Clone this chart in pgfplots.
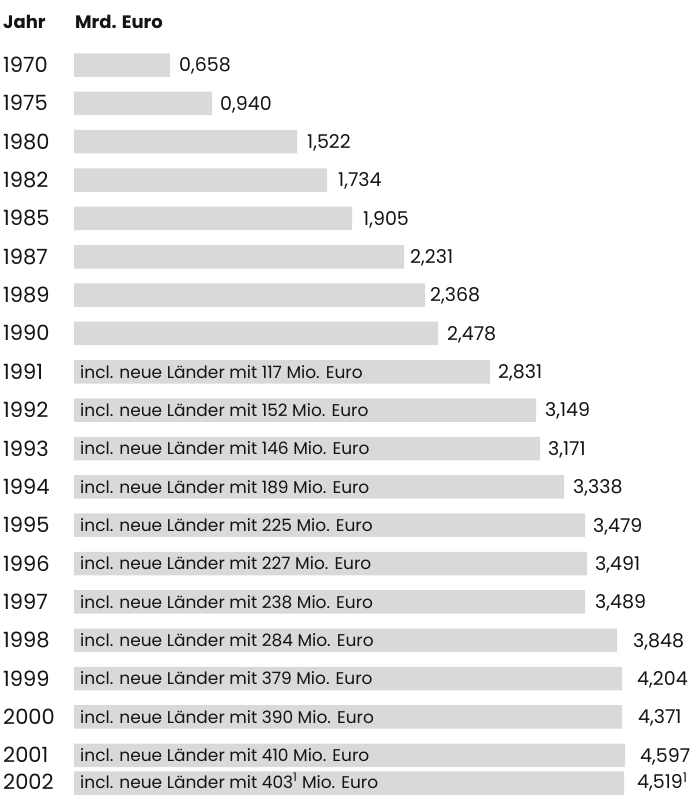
\documentclass[border=0pt]{standalone}
\usepackage{fontspec}
\setmainfont{Poppins}
\usepackage{pgfplots}
\pgfplotsset{compat=1.18}
\definecolor{barg}{RGB}{217,217,217}
\definecolor{txt}{RGB}{20,20,20}
\begin{document}
\begin{tikzpicture}
\useasboundingbox (0,0) rectangle (696pt,796pt);
\clip (0,0) rectangle (696pt,796pt);
\begin{axis}[at={(0,0)}, anchor=south west, scale only axis,
  width=696pt, height=796pt, xmin=-74, xmax=622, ymin=0, ymax=796,
  y dir=reverse, hide axis, clip=false]
% bars (drawn lengths)
\addplot[xbar, bar width=23.5pt, fill=barg, draw=none] coordinates {
(96,65) (138,103.35) (223,141.7) (253,180.05) (278,218.4) (330,256.75)
(351,295.1) (364,333.45) (416,371.8) (462,410.15) (466,448.5) (490,486.85)
(511,525.2) (513,563.55) (511,601.9) (543,640.25) (548,678.6) (548,716.95)
(551,755.3) (550,783)};
% value labels
\addplot[draw=none, mark=none, nodes near coords, point meta=explicit symbolic,
  every node near coord/.append style={anchor=base west, inner sep=0pt, yshift=-6.8pt,
  font=\fontsize{19}{22}\selectfont, text=txt}] coordinates {
(105,65) [0,658] (146,103.35) [0,940] (233,141.7) [1,522] (264,180.05) [1,734]
(289,218.4) [1,905] (336,256.75) [2,231] (356,295.1) [2,368] (373,333.45) [2,478]
(424,371.8) [2,831] (471,410.15) [3,149] (474,448.5) [3,171] (499,486.85) [3,338]
(519,525.2) [3,479] (521,563.55) [3,491] (521,601.9) [3,489] (559,640.25) [3,848]
(563,678.6) [4,204] (564,716.95) [4,371] (566,755.3) [4,597]
(563,782) [4,519\textsuperscript{1}]};
% year labels
\addplot[draw=none, mark=none, nodes near coords, point meta=explicit symbolic,
  every node near coord/.append style={anchor=base west, inner sep=0pt, yshift=-7.5pt,
  font=\fontsize{21}{24}\selectfont, text=txt}] coordinates {
(-71,65) [1970] (-71,103.35) [1975] (-71,141.7) [1980] (-71,180.05) [1982]
(-71,218.4) [1985] (-71,256.75) [1987] (-71,295.1) [1989] (-71,333.45) [1990]
(-71,371.8) [1991] (-71,410.15) [1992] (-71,448.5) [1993] (-71,486.85) [1994]
(-71,525.2) [1995] (-71,563.55) [1996] (-71,601.9) [1997] (-71,640.25) [1998]
(-71,678.6) [1999] (-71,716.95) [2000] (-71,755.3) [2001] (-71,782) [2002]};
% inner labels
\addplot[draw=none, mark=none, nodes near coords, point meta=explicit symbolic,
  every node near coord/.append style={anchor=base west, inner sep=0pt, yshift=-6.2pt,
  font=\fontsize{17}{20}\selectfont, text=txt}] coordinates {
(6,371.8) [incl. neue Länder mit 117 Mio. Euro]
(6,410.15) [incl. neue Länder mit 152 Mio. Euro]
(6,448.5) [incl. neue Länder mit 146 Mio. Euro]
(6,486.85) [incl. neue Länder mit 189 Mio. Euro]
(6,525.2) [incl. neue Länder mit 225 Mio. Euro]
(6,563.55) [incl. neue Länder mit 227 Mio. Euro]
(6,601.9) [incl. neue Länder mit 238 Mio. Euro]
(6,640.25) [incl. neue Länder mit 284 Mio. Euro]
(6,678.6) [incl. neue Länder mit 379 Mio. Euro]
(6,716.95) [incl. neue Länder mit 390 Mio. Euro]
(6,755.3) [incl. neue Länder mit 410 Mio. Euro]
(6,782) [incl. neue Länder mit 403\textsuperscript{1} Mio. Euro]};
\node[anchor=base west, inner sep=0pt, font=\fontsize{18}{22}\selectfont\bfseries, text=txt]
  at (axis cs:-71,28) {Jahr};
\node[anchor=base west, inner sep=0pt, font=\fontsize{18}{22}\selectfont\bfseries, text=txt]
  at (axis cs:1,28) {Mrd. Euro};
\end{axis}
\end{tikzpicture}
\end{document}
